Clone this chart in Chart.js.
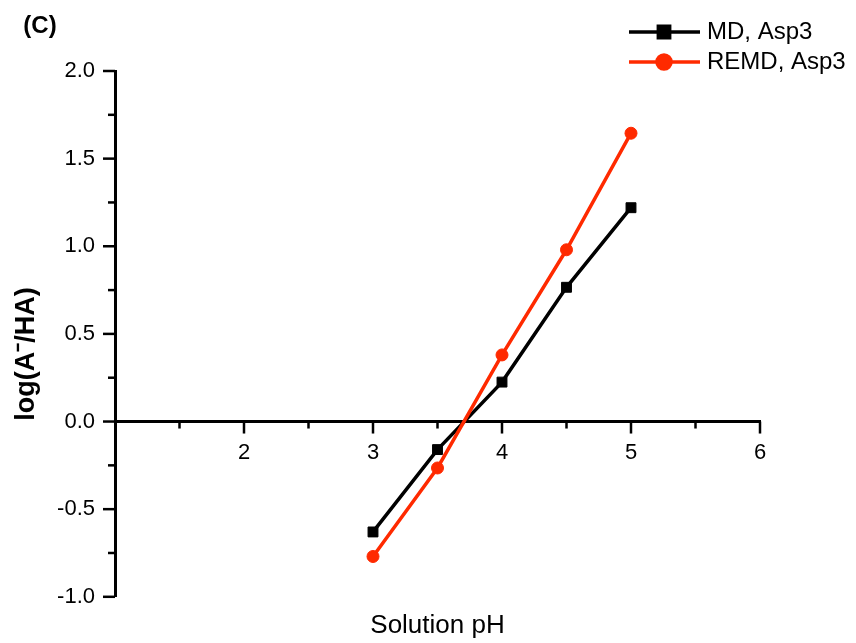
<!DOCTYPE html>
<html>
<head>
<meta charset="utf-8">
<script src="https://cdn.jsdelivr.net/npm/chart.js@4"></script>
<style>
  html, body { margin: 0; padding: 0; background: #fff; }
  #wrap { width: 856px; height: 643px; }
</style>
</head>
<body>
<div id="wrap"><canvas id="phChart"></canvas></div>
<script>
// values
const phValues = [3, 3.5, 4, 4.5, 5];
const mdValues = [-0.63, -0.16, 0.225, 0.766, 1.22];
const remdValues = [-0.77, -0.265, 0.38, 0.98, 1.645];
const seriesLabels = ['MD, Asp3', 'REMD, Asp3'];
const panelLabel = '(C)';
const xTitle = 'Solution pH';
const yTitle = 'log(A\u207B/HA)';

const FONT = '"Liberation Sans", Arial, sans-serif';

// minor/major tick marks drawn against the axes
const tickMarks = {
    id: 'tickMarks',
    afterDraw(chart) {
        const ctx = chart.ctx;
        const x = chart.scales.x, y = chart.scales.y;
        const y0 = y.getPixelForValue(0);
        ctx.save();
        ctx.strokeStyle = '#000';
        ctx.lineWidth = 2.5;
        x.ticks.forEach(t => {
            if (t.value <= x.min) return;
            const px = x.getPixelForValue(t.value);
            const len = Number.isInteger(t.value) ? 12 : 7;
            ctx.beginPath();
            ctx.moveTo(px, y0);
            ctx.lineTo(px, y0 + len);
            ctx.stroke();
        });
        y.ticks.forEach(t => {
            const py = y.getPixelForValue(t.value);
            const len = (Math.abs(t.value * 2 - Math.round(t.value * 2)) < 1e-9) ? 12 : 7;
            ctx.beginPath();
            ctx.moveTo(chart.chartArea.left, py);
            ctx.lineTo(chart.chartArea.left - len, py);
            ctx.stroke();
        });
        ctx.restore();
    }
};

// panel letter, y title and the line+marker legend
const extras = {
    id: 'extras',
    afterDraw(chart) {
        const ctx = chart.ctx;
        ctx.save();
        ctx.fillStyle = '#000';
        ctx.font = 'bold 24px ' + FONT;
        ctx.textAlign = 'center';
        ctx.textBaseline = 'middle';
        ctx.fillText(panelLabel, 40, 26);

        ctx.translate(27, 354);
        ctx.rotate(-Math.PI / 2);
        ctx.font = 'bold 27px ' + FONT;
        ctx.fillText(yTitle, 0, 0);
        ctx.restore();

        ctx.save();
        chart.data.datasets.forEach((ds, i) => {
            const ly = 32 + i * 30;
            ctx.strokeStyle = ds.borderColor;
            ctx.fillStyle = ds.borderColor;
            ctx.lineWidth = 3.5;
            ctx.beginPath();
            ctx.moveTo(629, ly);
            ctx.lineTo(700, ly);
            ctx.stroke();
            Chart.helpers.drawPoint(ctx, {
                pointStyle: ds.pointStyle,
                radius: ds.pointRadius + 1,
                rotation: 0,
                borderWidth: 1
            }, 664, ly);
            ctx.fillStyle = '#000';
            ctx.font = '24px ' + FONT;
            ctx.textAlign = 'left';
            ctx.textBaseline = 'middle';
            ctx.fillText(ds.label, 707, ly);
        });
        ctx.restore();
    }
};

const data = {
    datasets: [
        {
            label: seriesLabels[0],
            data: phValues.map((p, i) => ({ x: p, y: mdValues[i] })),
            borderColor: '#000000',
            backgroundColor: '#000000',
            borderWidth: 3.5,
            pointStyle: 'rect',
            pointRadius: 7,
            pointBorderWidth: 1,
            order: 1
        },
        {
            label: seriesLabels[1],
            data: phValues.map((p, i) => ({ x: p, y: remdValues[i] })),
            borderColor: '#ff2a00',
            backgroundColor: '#ff2a00',
            borderWidth: 3.5,
            pointStyle: 'circle',
            pointRadius: 6,
            pointBorderWidth: 1,
            order: 0
        }
    ]
};

const options = {
    responsive: true,
    maintainAspectRatio: false,
    animation: false,
    layout: {
        padding: { top: 71, right: 96, bottom: 0, left: 0 }
    },
    scales: {
        x: {
            type: 'linear',
            position: { y: 0 },
            min: 1,
            max: 6,
            grid: { display: false },
            border: { display: true, color: '#000', width: 3 },
            ticks: {
                stepSize: 0.5,
                padding: 10,
                color: '#000',
                font: { family: FONT, size: 22 },
                autoSkip: false,
                maxRotation: 0,
                callback: v => (Number.isInteger(v) && v > 1) ? String(v) : ''
            }
        },
        y: {
            type: 'linear',
            min: -1,
            max: 2,
            grid: { display: false },
            border: { display: true, color: '#000', width: 3 },
            afterFit(scale) { scale.width = 115; },
            ticks: {
                stepSize: 0.25,
                padding: 12,
                color: '#000',
                font: { family: FONT, size: 22 },
                autoSkip: false,
                callback: v => (Math.abs(v * 2 - Math.round(v * 2)) < 1e-9) ? v.toFixed(1) : ''
            }
        }
    },
    plugins: {
        legend: { display: false },
        tooltip: { enabled: false },
        title: {
            display: true,
            position: 'bottom',
            fullSize: false,
            text: xTitle,
            color: '#000',
            font: { family: FONT, size: 26, weight: 'normal' },
            padding: { top: 13, bottom: 2 }
        }
    }
};

const ctx = document.getElementById('phChart').getContext('2d');
new Chart(ctx, {
    type: 'line',
    data: data,
    options: options,
    plugins: [tickMarks, extras]
});
</script>
</body>
</html>
